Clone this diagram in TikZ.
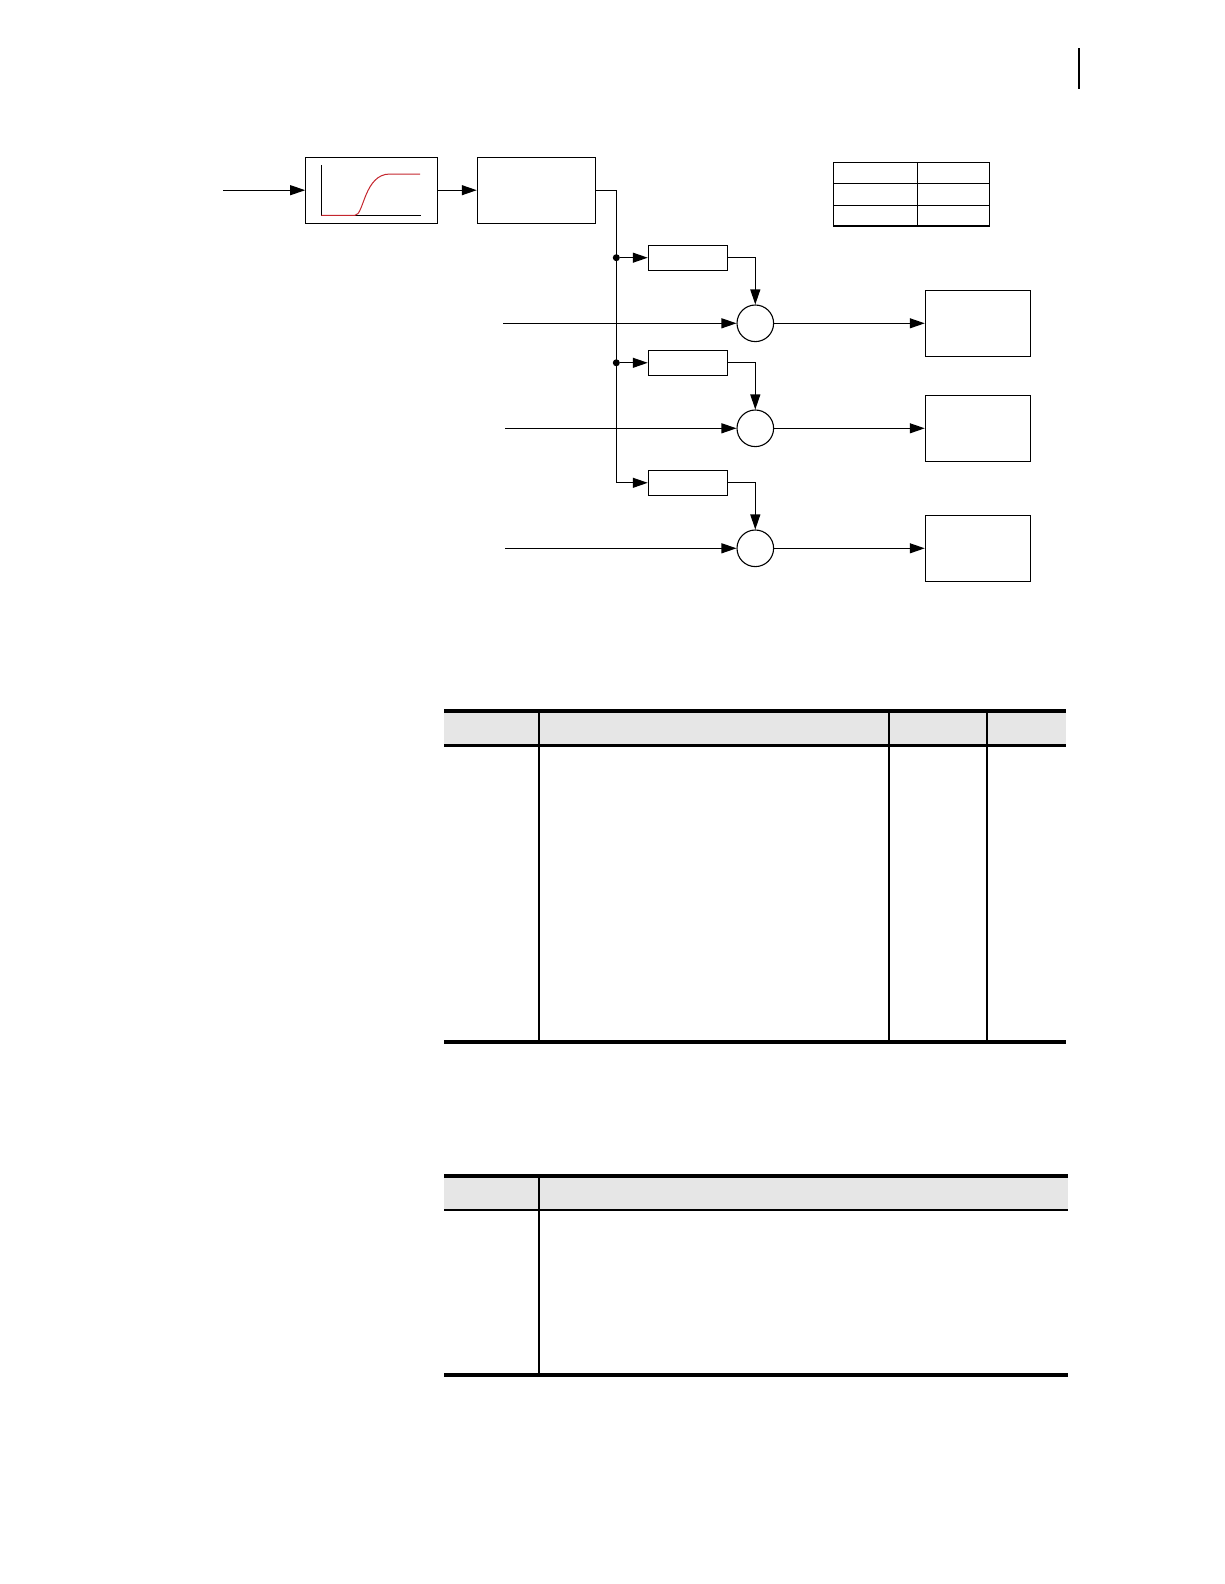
\documentclass[tikz,border=0pt]{standalone}
\usepackage{tikz}
\usetikzlibrary{arrows.meta,calc,positioning}
\definecolor{CurveRed}{HTML}{C4262E}
\definecolor{HeadGray}{HTML}{E6E6E6}
\tikzset{
  blkbox/.style={draw=black, line width=1.1pt, inner sep=0pt, minimum height=66pt},
  gainbox/.style={draw=black, line width=1.1pt, inner sep=0pt, minimum width=79.4pt, minimum height=25pt},
  outbox/.style={draw=black, line width=1.1pt, inner sep=0pt, minimum width=105pt, minimum height=66pt},
  sumnode/.style={draw=black, circle, line width=1.1pt, inner sep=0pt, minimum size=36.6pt},
  tapdot/.style={circle, fill=black, inner sep=0pt, minimum size=7pt},
  sigline/.style={line width=1.1pt, draw=black},
  sigarrow/.style={-{Triangle[length=15pt,width=10pt]}, line width=1.1pt, draw=black},
  thickrule/.style={line width=4pt},
  thinrule/.style={line width=1.3pt}
}

\begin{document}
\begin{tikzpicture}[x=1pt,y=-1pt]
  \useasboundingbox (0,0) rectangle (1224,1584);
  % page marker
  \draw[line width=2pt] (1078.5,48.5) -- (1078.5,89);
  % forward path
  \coordinate (in0) at (223,190.2);
  \node[blkbox, minimum width=132pt] (sig) at (371.7,190.2) {};
  \node[blkbox, minimum width=118.4pt] (ctrl) at (536.5,190.2) {};
  \draw[sigline] (321.3,165) -- (321.3,215.3) -- (420.7,215.3);
  \draw[CurveRed, line width=1pt] (321.3,215.3) -- (355,215.3) .. controls (364,215.3) and (364,174) .. (390,174) -- (420,174);
  \draw[sigarrow] (in0) -- (sig.west);
  \draw[sigarrow] (sig) -- (ctrl);
  % branches
  \coordinate (busend) at (616.3,482.8);
  \foreach \k/\gy/\sy/\ux in {1/257.7/323.3/503,2/362.8/428.3/505,3/482.8/548.3/505} {
    \node[gainbox] (g\k) at (688,\gy) {};
    \node[sumnode] (s\k) at (755.3,\sy) {};
    \node[outbox] (o\k) at (977.8,\sy) {};
    \coordinate (u\k) at (\ux,\sy);
    \draw[sigarrow] (g\k.east) -| (s\k.north);
    \draw[sigarrow] (u\k) -- (s\k);
    \draw[sigarrow] (s\k) -- (o\k);
  }
  \draw[sigarrow] (ctrl.east) -| (busend) -- (g3.west);
  \foreach \k in {1,2} {
    \node[tapdot] (t\k) at (busend |- g\k.west) {};
    \draw[sigarrow] (t\k) -- (g\k.west);
  }
  % small table
  \draw[line width=1.1pt] (833.3,162.3) rectangle (989.3,226);
  \draw[line width=1.1pt] (833.3,183.3) -- (989.3,183.3) (833.3,205.3) -- (989.3,205.3) (917.3,162.3) -- (917.3,226);
  % table 1
  \fill[HeadGray] (444,712) rectangle (1066,744.5);
  \draw[thickrule] (444,710.5) -- (1066,710.5);
  \draw[line width=2.5pt] (444,745.5) -- (1066,745.5);
  \draw[thickrule] (444,1041.5) -- (1066,1041.5);
  \draw[thinrule] (539,712) -- (539,1040);
  \draw[line width=2.5pt] (889,712) -- (889,1040);
  \draw[thinrule] (987,712) -- (987,1040);
  % table 2
  \fill[HeadGray] (444,1177) rectangle (1068,1209.5);
  \draw[thickrule] (444,1175.5) -- (1068,1175.5);
  \draw[thinrule] (444,1210) -- (1068,1210);
  \draw[thickrule] (444,1374.5) -- (1068,1374.5);
  \draw[thinrule] (539,1177) -- (539,1373);
\end{tikzpicture}
\end{document}
